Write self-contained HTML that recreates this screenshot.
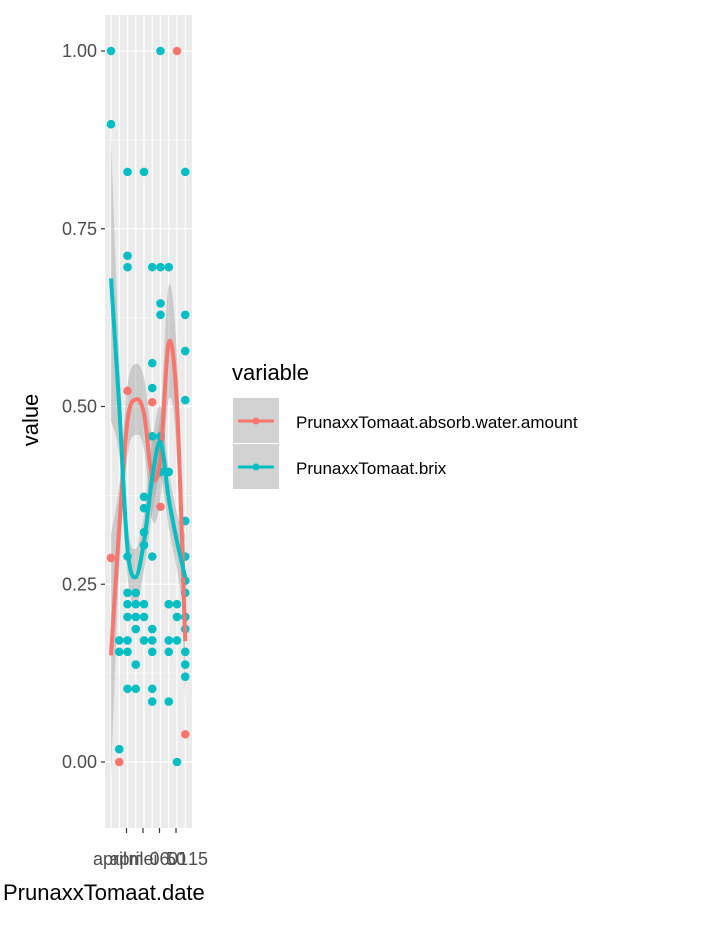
<!DOCTYPE html>
<html><head><meta charset="utf-8"><style>
body{margin:0;background:#fff;}
svg text{font-family:"Liberation Sans",sans-serif;}
</style></head><body>
<svg id="chart" width="720" height="921" xmlns="http://www.w3.org/2000/svg">
<defs><clipPath id="pclip"><rect x="105" y="15" width="87" height="813"/></clipPath></defs>
<rect width="720" height="921" fill="#fff"/>
<g id="panel"></g>
<g id="marks" clip-path="url(#pclip)"></g>
<g id="axes"></g>
<text x="232" y="380" font-size="22" fill="#000">variable</text>
<g>
<rect x="233" y="398" width="46" height="45" fill="#d2d2d2"/>
<line x1="238" y1="421" x2="274" y2="421" stroke="#F8766D" stroke-width="3"/>
<circle cx="256" cy="421" r="3.5" fill="#F8766D"/>
<text x="296" y="428" font-size="17" fill="#000">PrunaxxTomaat.absorb.water.amount</text>
</g>
<g>
<rect x="233" y="444" width="46" height="45" fill="#d2d2d2"/>
<line x1="238" y1="467" x2="274" y2="467" stroke="#00BFC4" stroke-width="3"/>
<circle cx="256" cy="467" r="3.5" fill="#00BFC4"/>
<text x="296" y="474" font-size="17" fill="#000">PrunaxxTomaat.brix</text>
</g>
<text transform="translate(38,420) rotate(-90)" text-anchor="middle" font-size="22" fill="#000">value</text>
<text x="3" y="900" font-size="22" fill="#000">PrunaxxTomaat.date</text>
</svg>
<script>
const NS="http://www.w3.org/2000/svg";
const yTicks=[0,0.25,0.5,0.75,1];
const yTickLabels=["0.00","0.25","0.50","0.75","1.00"];
const nCats=10;
const absorbPts=[[0,0.287],[1,0.0],[2,0.522],[5,0.506],[6,0.359],[8,1.0],[9,0.039]];
const brixPts=[[0,1.0],[0,0.897],[1,0.018],[1,0.171],[1,0.155],
[2,0.83],[2,0.712],[2,0.696],[2,0.289],[2,0.238],[2,0.222],[2,0.204],[2,0.171],[2,0.155],[2,0.103],
[3,0.238],[3,0.222],[3,0.204],[3,0.187],[3,0.137],[3,0.103],
[4,0.83],[4,0.373],[4,0.357],[4,0.323],[4,0.305],[4,0.222],[4,0.204],[4,0.171],
[5,0.696],[5,0.561],[5,0.526],[5,0.458],[5,0.289],[5,0.187],[5,0.171],[5,0.155],[5,0.103],[5,0.085],
[6,1.0],[6,0.696],[6,0.645],[6,0.629],[6,0.458],[6,0.408],
[7,0.696],[7,0.408],[7,0.222],[7,0.171],[7,0.155],[7,0.085],
[8,0.222],[8,0.204],[8,0.171],[8,0.0],
[9,0.83],[9,0.629],[9,0.578],[9,0.509],[9,0.339],[9,0.289],[9,0.255],[9,0.238],[9,0.204],[9,0.187],[9,0.155],[9,0.137],[9,0.12]];
const absorbFit=[0.15,0.33,0.48,0.51,0.49,0.40,0.43,0.59,0.50,0.17];
const absorbSe=[0.17,0.06,0.05,0.05,0.05,0.06,0.06,0.08,0.07,0.09];
const brixFit=[0.68,0.50,0.30,0.26,0.31,0.40,0.45,0.37,0.31,0.26];
const brixSe=[0.2,0.07,0.04,0.04,0.04,0.05,0.05,0.04,0.04,0.06];
const xTickCats=[2,4,6,8];
const xTickLabels=["april","mei","06","50"];
const xExtraLabels=["april","01","15"];

const PX0=105,PX1=192,PY0=15,PY1=828;
function ys(v){return 762-v*711;}
function xs(i){return 111+i*8.25;}
function mk(tag,attrs,parent){const e=document.createElementNS(NS,tag);for(const k in attrs)e.setAttribute(k,attrs[k]);parent.appendChild(e);return e;}
const panel=document.getElementById('panel'),marks=document.getElementById('marks'),axes=document.getElementById('axes');
mk('rect',{x:PX0,y:PY0,width:PX1-PX0,height:PY1-PY0,fill:'#ebebeb'},panel);
for(let i=0;i<yTicks.length-1;i++){const v=(yTicks[i]+yTicks[i+1])/2;mk('line',{x1:PX0,x2:PX1,y1:ys(v),y2:ys(v),stroke:'#fff','stroke-width':0.6},panel);}
mk('line',{x1:PX0,x2:PX1,y1:ys(-0.125),y2:ys(-0.125),stroke:'#fff','stroke-width':0.6},panel);
yTicks.forEach((v,i)=>{
 mk('line',{x1:PX0,x2:PX1,y1:ys(v),y2:ys(v),stroke:'#fff','stroke-width':1.2},panel);
 mk('line',{x1:101,x2:PX0,y1:ys(v),y2:ys(v),stroke:'#333','stroke-width':1.2},axes);
 const t=mk('text',{x:97,y:ys(v)+6,'text-anchor':'end','font-size':18,fill:'#4d4d4d'},axes);
 
 
 t.textContent=yTickLabels[i];
});
for(let i=0;i<nCats;i++)mk('line',{x1:xs(i),x2:xs(i),y1:PY0,y2:PY1,stroke:'#fff','stroke-width':1.2},panel);
xTickCats.forEach((c,i)=>{
 mk('line',{x1:xs(c)-1,x2:xs(c)-1,y1:PY1,y2:PY1+5,stroke:'#333','stroke-width':1.2},axes);
 const t=mk('text',{x:xs(c)-1,y:865,'text-anchor':'middle','font-size':18,fill:'#4d4d4d'},axes);
 
 
 t.textContent=xTickLabels[i];
});
[[110,xExtraLabels[0]],[178,xExtraLabels[1]],[198,xExtraLabels[2]]].forEach(([x,s])=>{
 const t=mk('text',{x:x,y:865,'text-anchor':'middle','font-size':18,fill:'#4d4d4d'},axes);
 
 
 t.textContent=s;
});
function spline(pts){let d='M'+pts[0][0]+','+pts[0][1];for(let i=0;i<pts.length-1;i++){const p0=pts[Math.max(0,i-1)],p1=pts[i],p2=pts[i+1],p3=pts[Math.min(pts.length-1,i+2)];
d+=' C'+(p1[0]+(p2[0]-p0[0])/6)+','+(p1[1]+(p2[1]-p0[1])/6)+' '+(p2[0]-(p3[0]-p1[0])/6)+','+(p2[1]-(p3[1]-p1[1])/6)+' '+p2[0]+','+p2[1];}return d;}
function ribbon(fit,se,name){
 const up=fit.map((v,i)=>[xs(i),ys(v+se[i])]);
 const lo=fit.map((v,i)=>[xs(i),ys(v-se[i])]).reverse();
 const d=spline(up)+' L'+spline(lo).slice(1)+' Z';
 const p=mk('path',{d:d,fill:'#999','fill-opacity':0.4},marks);
 
 
}
function pts(arr,col,name){arr.forEach(([c,v])=>{const e=mk('circle',{cx:xs(c),cy:ys(v),r:4.3,fill:col},marks);
 
 });}
function line(fit,col,name){const p=mk('path',{d:spline(fit.map((v,i)=>[xs(i),ys(v)])),fill:'none',stroke:col,'stroke-width':4},marks);
 
 }
ribbon(absorbFit,absorbSe,'absorb-ribbon');
ribbon(brixFit,brixSe,'brix-ribbon');
pts(absorbPts,'#F8766D','absorb-point');
pts(brixPts,'#00BFC4','brix-point');
line(absorbFit,'#F8766D','absorb-smooth-line');
line(brixFit,'#00BFC4','brix-smooth-line');
</script>
</body></html>
